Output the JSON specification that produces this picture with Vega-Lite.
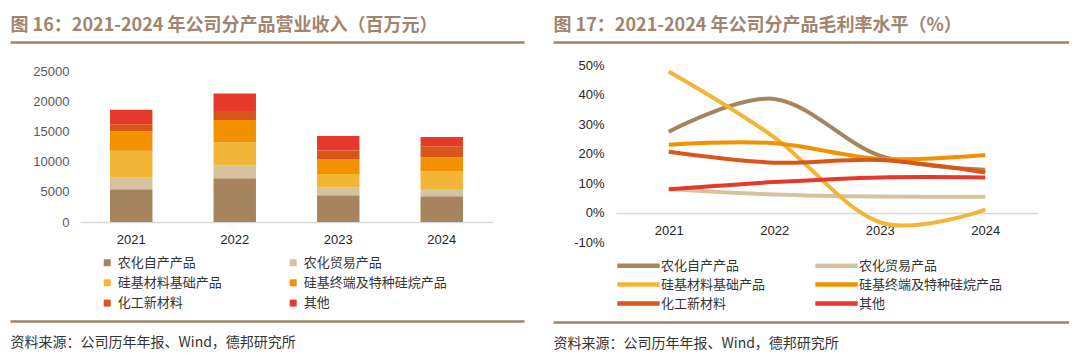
{
  "$schema": "https://vega.github.io/schema/vega-lite/v6.json",
  "background": "white",
  "padding": {"left": 10, "top": 16, "right": 0, "bottom": 0},
  "config": {"view": {"stroke": null}, "font": "Noto Sans CJK SC"},
  "datasets": {
    "rev": [
      {"year": "2021", "cat": "农化自产产品", "i": 1, "v": 5410},
      {"year": "2021", "cat": "农化贸易产品", "i": 2, "v": 2020},
      {"year": "2021", "cat": "硅基材料基础产品", "i": 3, "v": 4350},
      {"year": "2021", "cat": "硅基终端及特种硅烷产品", "i": 4, "v": 3250},
      {"year": "2021", "cat": "化工新材料", "i": 5, "v": 1160},
      {"year": "2021", "cat": "其他", "i": 6, "v": 2390},
      {"year": "2022", "cat": "农化自产产品", "i": 1, "v": 7230},
      {"year": "2022", "cat": "农化贸易产品", "i": 2, "v": 2120},
      {"year": "2022", "cat": "硅基材料基础产品", "i": 3, "v": 3820},
      {"year": "2022", "cat": "硅基终端及特种硅烷产品", "i": 4, "v": 3710},
      {"year": "2022", "cat": "化工新材料", "i": 5, "v": 1500},
      {"year": "2022", "cat": "其他", "i": 6, "v": 2910},
      {"year": "2023", "cat": "农化自产产品", "i": 1, "v": 4410},
      {"year": "2023", "cat": "农化贸易产品", "i": 2, "v": 1320},
      {"year": "2023", "cat": "硅基材料基础产品", "i": 3, "v": 2230},
      {"year": "2023", "cat": "硅基终端及特种硅烷产品", "i": 4, "v": 2390},
      {"year": "2023", "cat": "化工新材料", "i": 5, "v": 1500},
      {"year": "2023", "cat": "其他", "i": 6, "v": 2390},
      {"year": "2024", "cat": "农化自产产品", "i": 1, "v": 4250},
      {"year": "2024", "cat": "农化贸易产品", "i": 2, "v": 1230},
      {"year": "2024", "cat": "硅基材料基础产品", "i": 3, "v": 2910},
      {"year": "2024", "cat": "硅基终端及特种硅烷产品", "i": 4, "v": 2280},
      {"year": "2024", "cat": "化工新材料", "i": 5, "v": 1860},
      {"year": "2024", "cat": "其他", "i": 6, "v": 1540}
    ],
    "gm": [
      {"year": "2021", "cat": "农化自产产品", "v": 27.4},
      {"year": "2022", "cat": "农化自产产品", "v": 38.5},
      {"year": "2023", "cat": "农化自产产品", "v": 19.3},
      {"year": "2024", "cat": "农化自产产品", "v": 14.5},
      {"year": "2021", "cat": "农化贸易产品", "v": 8.0},
      {"year": "2022", "cat": "农化贸易产品", "v": 6.1},
      {"year": "2023", "cat": "农化贸易产品", "v": 5.4},
      {"year": "2024", "cat": "农化贸易产品", "v": 5.3},
      {"year": "2021", "cat": "硅基材料基础产品", "v": 47.8},
      {"year": "2022", "cat": "硅基材料基础产品", "v": 25.5},
      {"year": "2023", "cat": "硅基材料基础产品", "v": -3.3},
      {"year": "2024", "cat": "硅基材料基础产品", "v": 1.0},
      {"year": "2021", "cat": "硅基终端及特种硅烷产品", "v": 23.0},
      {"year": "2022", "cat": "硅基终端及特种硅烷产品", "v": 23.5},
      {"year": "2023", "cat": "硅基终端及特种硅烷产品", "v": 18.2},
      {"year": "2024", "cat": "硅基终端及特种硅烷产品", "v": 19.5},
      {"year": "2021", "cat": "化工新材料", "v": 20.6},
      {"year": "2022", "cat": "化工新材料", "v": 16.9},
      {"year": "2023", "cat": "化工新材料", "v": 17.8},
      {"year": "2024", "cat": "化工新材料", "v": 13.6},
      {"year": "2021", "cat": "其他", "v": 7.9},
      {"year": "2022", "cat": "其他", "v": 10.3},
      {"year": "2023", "cat": "其他", "v": 11.9},
      {"year": "2024", "cat": "其他", "v": 11.9}
    ],
    "h": [{"h": 0}]
  },
  "spacing": 29,
  "resolve": {"scale": {"color": "independent"}, "legend": {"color": "independent"}},
  "hconcat": [
    {
      "width": 514,
      "height": 157,
      "resolve": {"scale": {"x": "independent"}, "axis": {"x": "independent", "y": "independent"}},
      "layer": [
        {
          "data": {"name": "rev"},
          "mark": {"type": "bar"},
          "encoding": {
            "x": {
              "field": "year", "type": "ordinal",
              "scale": {"range": [70, 483], "paddingInner": 0.59, "paddingOuter": 0.29},
              "axis": {"title": null, "orient": "bottom", "domainColor": "#D9D9D9", "domainWidth": 1.5, "ticks": false, "labelAngle": 0, "labelFont": "Liberation Sans", "labelFontSize": 13, "labelColor": "#262626", "labelPadding": 11}
            },
            "y": {
              "field": "v", "type": "quantitative", "stack": "zero",
              "scale": {"domain": [0, 25000]},
              "axis": {"title": null, "orient": "left", "values": [0, 5000, 10000, 15000, 20000, 25000], "format": "d", "labelOverlap": false, "grid": false, "domain": false, "ticks": false, "offset": -70, "labelPadding": 11, "labelFont": "Liberation Sans", "labelFontSize": 13, "labelColor": "#595959"}
            },
            "color": {
              "field": "cat", "type": "nominal",
              "scale": {
                "domain": ["农化自产产品", "农化贸易产品", "硅基材料基础产品", "硅基终端及特种硅烷产品", "化工新材料", "其他"],
                "range": ["#A6845E", "#D5C39F", "#F3B535", "#F39100", "#D9561A", "#E53A2A"]
              },
              "legend": {"title": null, "orient": "none", "direction": "horizontal", "legendX": 90.7, "legendY": 191, "columns": 2, "columnPadding": 64, "rowPadding": 6.3, "symbolType": "square", "symbolSize": 49, "symbolStrokeWidth": 0, "labelOffset": 4, "labelFont": "Noto Sans CJK SC", "labelFontSize": 13, "labelColor": "#333333"}
            },
            "order": {"field": "i", "type": "quantitative"}
          }
        },
        {
          "data": {"name": "h"},
          "mark": {"type": "text", "text": ""},
          "encoding": {
            "y": {"datum": 0, "type": "quantitative", "axis": null},
            "x": {
              "field": "h", "type": "quantitative", "scale": {"domain": [0, 1]},
              "axis": {"orient": "top", "offset": 23, "domainColor": "#A08268", "domainWidth": 2.5, "ticks": false, "labels": false, "grid": false, "title": "图 16：2021-2024 年公司分产品营业收入（百万元）", "titleAnchor": "start", "titleAlign": "left", "titleFont": "Noto Sans CJK SC", "titleFontSize": 18, "titleFontWeight": "bold", "titleColor": "#A08470", "titlePadding": 8}
            }
          }
        },
        {
          "data": {"name": "h"},
          "mark": {"type": "text", "text": ""},
          "encoding": {
            "y": {"datum": 0, "type": "quantitative", "axis": null},
            "x": {
              "field": "h", "type": "quantitative", "scale": {"domain": [0, 1]},
              "axis": {"orient": "bottom", "offset": 99, "domainColor": "#A08268", "domainWidth": 2.5, "ticks": false, "labels": false, "grid": false, "title": "资料来源：公司历年年报、Wind，德邦研究所", "titleAnchor": "start", "titleAlign": "left", "titleFont": "Noto Sans CJK SC", "titleFontSize": 14, "titleFontWeight": "normal", "titleColor": "#333333", "titlePadding": 14}
            }
          }
        }
      ]
    },
    {
      "width": 516,
      "height": 177,
      "resolve": {"scale": {"x": "independent"}, "axis": {"x": "independent", "y": "independent"}},
      "layer": [
        {
          "data": {"name": "gm"},
          "mark": {"type": "line", "interpolate": "cardinal", "strokeWidth": 4},
          "encoding": {
            "x": {
              "field": "year", "type": "ordinal",
              "scale": {"type": "point", "range": [63, 485], "padding": 0.5},
              "axis": {"title": null, "orient": "bottom", "offset": -29, "domainColor": "#D9D9D9", "domainWidth": 1.5, "ticks": false, "labelAngle": 0, "labelFont": "Liberation Sans", "labelFontSize": 13, "labelColor": "#262626", "labelPadding": 11}
            },
            "y": {
              "field": "v", "type": "quantitative",
              "scale": {"domain": [-10, 50]},
              "axis": {"title": null, "orient": "left", "values": [-10, 0, 10, 20, 30, 40, 50], "labelExpr": "datum.value + '%'", "labelOverlap": false, "grid": false, "domain": false, "ticks": false, "offset": -63, "labelPadding": 12, "labelFont": "Liberation Sans", "labelFontSize": 13, "labelColor": "#262626"}
            },
            "color": {
              "field": "cat", "type": "nominal",
              "scale": {
                "domain": ["农化自产产品", "农化贸易产品", "硅基材料基础产品", "硅基终端及特种硅烷产品", "化工新材料", "其他"],
                "range": ["#A6845E", "#D5C39F", "#F3B535", "#F39100", "#D9561A", "#E53A2A"]
              },
              "legend": {"title": null, "orient": "none", "direction": "horizontal", "legendX": 79, "legendY": 194, "columns": 2, "columnPadding": 40, "rowPadding": 0, "symbolType": "M-8,0H8", "symbolSize": 28, "symbolStrokeWidth": 4.5, "labelOffset": 16, "labelFont": "Noto Sans CJK SC", "labelFontSize": 13, "labelColor": "#333333"}
            }
          }
        },
        {
          "data": {"name": "h"},
          "mark": {"type": "text", "text": ""},
          "encoding": {
            "y": {"datum": 0, "type": "quantitative", "axis": null},
            "x": {
              "field": "h", "type": "quantitative", "scale": {"domain": [0, 1]},
              "axis": {"orient": "top", "offset": 23, "domainColor": "#A08268", "domainWidth": 2.5, "ticks": false, "labels": false, "grid": false, "title": "图 17：2021-2024 年公司分产品毛利率水平（%）", "titleAnchor": "start", "titleAlign": "left", "titleFont": "Noto Sans CJK SC", "titleFontSize": 18, "titleFontWeight": "bold", "titleColor": "#A08470", "titlePadding": 8}
            }
          }
        },
        {
          "data": {"name": "h"},
          "mark": {"type": "text", "text": ""},
          "encoding": {
            "y": {"datum": 0, "type": "quantitative", "axis": null},
            "x": {
              "field": "h", "type": "quantitative", "scale": {"domain": [0, 1]},
              "axis": {"orient": "bottom", "offset": 80, "domainColor": "#A08268", "domainWidth": 2.5, "ticks": false, "labels": false, "grid": false, "title": "资料来源：公司历年年报、Wind，德邦研究所", "titleAnchor": "start", "titleAlign": "left", "titleFont": "Noto Sans CJK SC", "titleFontSize": 14, "titleFontWeight": "normal", "titleColor": "#333333", "titlePadding": 14}
            }
          }
        }
      ]
    }
  ]
}
